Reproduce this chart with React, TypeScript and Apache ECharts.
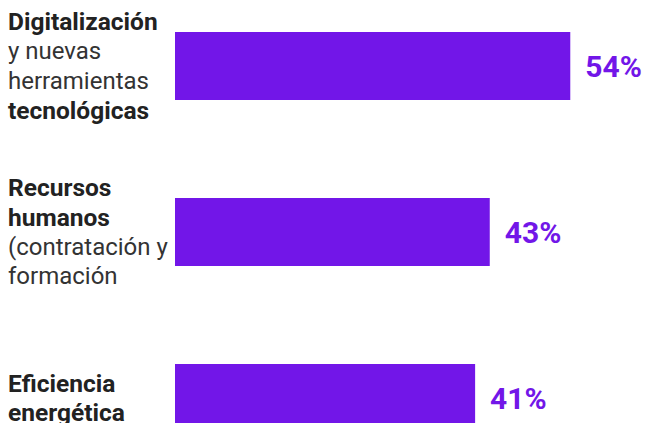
import React, { useEffect, useRef } from "react";
import * as echarts from "echarts";

const categories = [
  "{b|Digitalización}\n{r|y nuevas}\n{r|herramientas}\n{b|tecnológicas}",
  "{b|Recursos}\n{b|humanos}\n{r|(contratación y}\n{r|formación}",
  "{b|Eficiencia}\n{b|energética}",
];
const values = [54, 43, 41];

const PURPLE = "#7216E8";

export default function App() {
  const ref = useRef<HTMLDivElement>(null);
  useEffect(() => {
    document.body.style.margin = "0";
    const chart = echarts.init(ref.current!, null, { renderer: "svg" });
    chart.setOption({
      animation: false,
      grid: { left: 175, top: 0, width: 439.2, height: 498, containLabel: false },
      xAxis: {
        type: "value",
        min: 0,
        max: 60,
        show: false,
      },
      yAxis: {
        type: "category",
        inverse: true,
        data: categories,
        axisLine: { show: false },
        axisTick: { show: false },
        splitLine: { show: false },
        axisLabel: {
          align: "left",
          margin: 167,
          rich: {
            b: {
              fontFamily: "Roboto",
              fontWeight: "bold",
              fontSize: 24.5,
              lineHeight: 29.5,
              color: "#222222",
            },
            r: {
              fontFamily: "Roboto",
              fontWeight: "normal",
              fontSize: 24,
              lineHeight: 29.5,
              color: "#333333",
            },
          },
        },
      },
      series: [
        {
          type: "bar",
          data: values,
          barWidth: 68,
          itemStyle: { color: PURPLE },
          label: {
            show: true,
            position: "right",
            distance: 15,
            formatter: "{c}%",
            fontFamily: "Roboto",
            fontWeight: "bold",
            fontSize: 30,
            color: PURPLE,
          },
        },
      ],
    });
    return () => chart.dispose();
  }, []);
  return (
    <div style={{ width: 645, height: 423, overflow: "hidden", position: "relative" }}>
      <div ref={ref} style={{ position: "absolute", left: 0, top: -17, width: 645, height: 498 }} />
    </div>
  );
}
